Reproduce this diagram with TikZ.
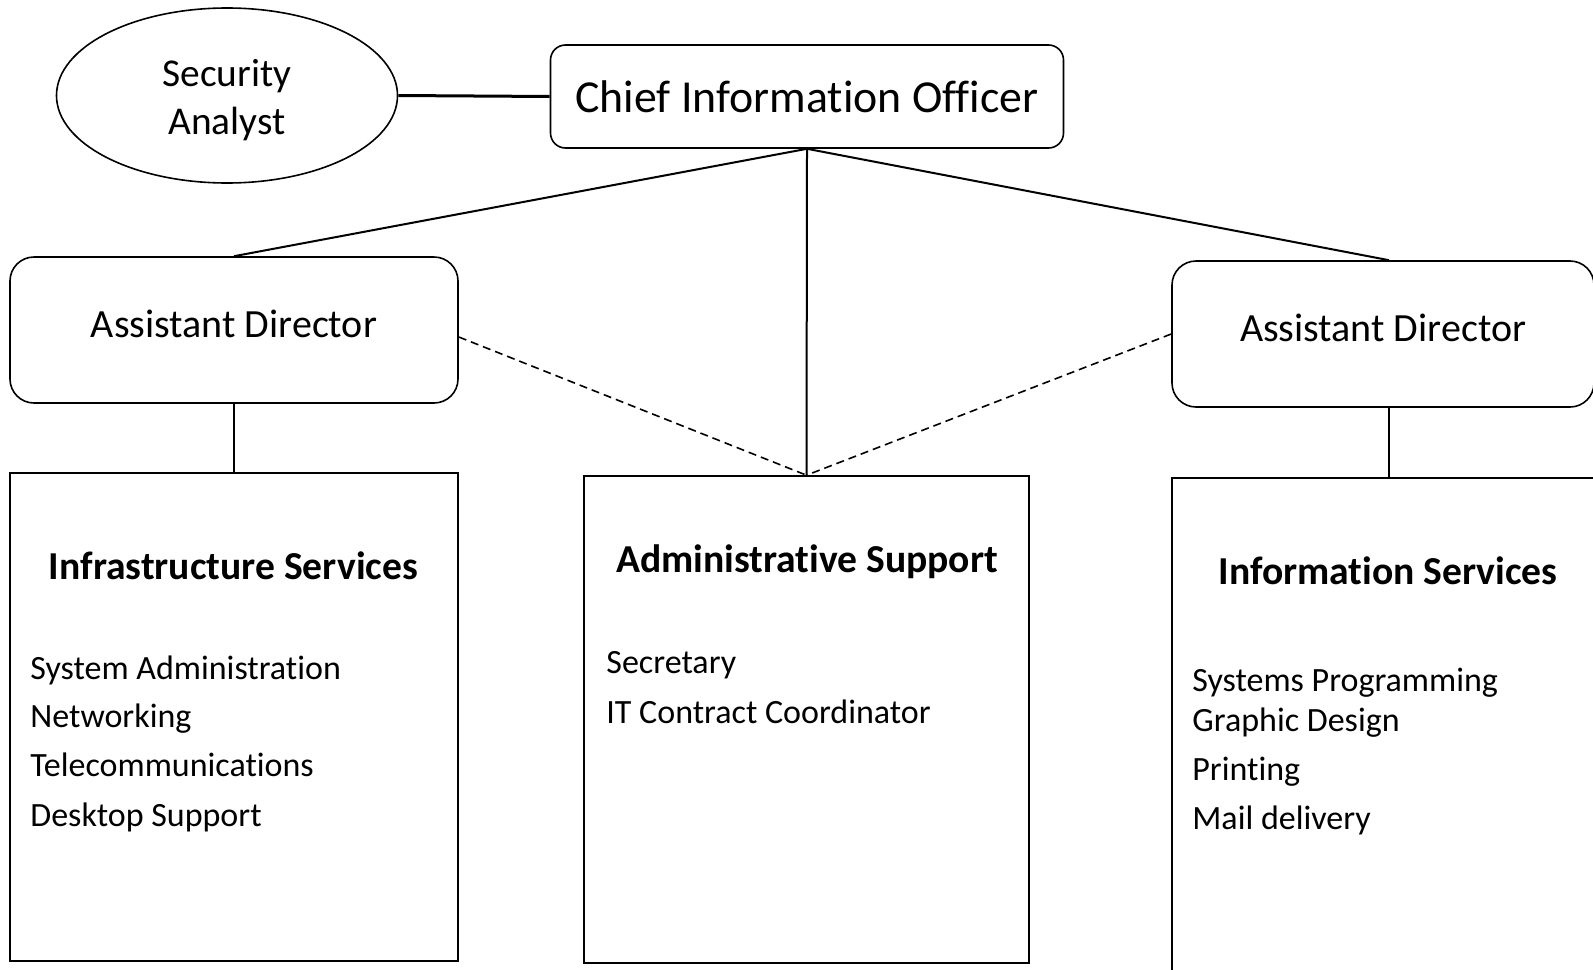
\documentclass[tikz,border=0pt]{standalone}
\usepackage{fontspec}
\setmainfont{Carlito}[Ligatures=NoCommon]
\usetikzlibrary{shapes.geometric}

\tikzset{
  box/.style={draw, rectangle, line width=0.8pt, inner sep=0pt},
  roundbox/.style={box, rounded corners=12pt, text height=0.75em, text depth=0pt, font=\fontsize{20}{24}\selectfont},
  heading/.style={inner sep=0pt, font=\bfseries\fontsize{19.8}{23}\selectfont},
  entry/.style={anchor=west, inner sep=0pt, text height=0.75em, text depth=0.25em, font=\fontsize{17}{20}\selectfont},
  link/.style={line width=1pt},
  dotted link/.style={line width=0.8pt, dash pattern=on 4pt off 2.5pt}
}

\begin{document}
\begin{tikzpicture}[x=0.5pt, y=-0.5pt]
        \useasboundingbox (0,0) rectangle (1593,969);
        \clip (0,0) rectangle (1593,969);

        % Nodes
        \node (sec) [draw, ellipse, line width=0.8pt, minimum width=170.5pt, minimum height=87.5pt, inner sep=0pt] at (227,95.5) {};
        \node (sec_txt) [align=center, inner sep=0pt, font=\fontsize{19.7}{24}\selectfont] at (227,100.5) {Security\\Analyst};
        \node (cio) [box, rounded corners=7.5pt, minimum width=256.5pt, minimum height=51.5pt, font=\fontsize{22.9}{27}\selectfont] at (807,96.5) {Chief Information Officer};
        \node (adl) [roundbox, minimum width=224pt, minimum height=73pt] at (234,330) {Assistant Director};
        \node (adr) [roundbox, minimum width=211pt, minimum height=73pt] at (1383,334) {Assistant Director};

        \node (infra) [box, minimum width=224pt, minimum height=244pt] at (234,717) {};
        \node (admin) [box, minimum width=222.5pt, minimum height=243.5pt] at (806.5,719.5) {};
        \node (info) [box, minimum width=230pt, minimum height=260pt] at (1402,738) {};

        % Box contents
        \node (infra_t) [heading] at (233.5,566) {Infrastructure Services};
        \node (infra_1) [entry] at (30,674) {System Administration};
        \node (infra_2) [entry] at (30,722) {Networking};
        \node (infra_3) [entry] at (30,771) {Telecommunications};
        \node (infra_4) [entry] at (30,821) {Desktop Support};

        \node (admin_t) [heading] at (807,562) {Administrative Support};
        \node (admin_1) [entry] at (606,668) {Secretary};
        \node (admin_2) [entry] at (606,718) {IT Contract Coordinator};

        \node (info_t) [heading] at (1388,571) {Information Services};
        \node (info_1) [entry] at (1192,686) {Systems Programming};
        \node (info_2) [entry] at (1192,726) {Graphic Design};
        \node (info_3) [entry] at (1192,775) {Printing};
        \node (info_4) [entry] at (1192,824) {Mail delivery};

        % Lines
        \draw [line width=1.5pt] (sec.east) -- (cio.west);
        \draw [link] (cio.south) -- (adl.north);
        \draw [link] (cio.south) -- ([xshift=3pt]adr.north);
        \draw [link] (cio.south) -- (admin.north);
        \draw [link] (adl.south) -- (infra.north);
        \draw [link] ([xshift=3pt]adr.south) -- ([xshift=3pt]adr.south |- info.north);
        \draw [dotted link] ([yshift=-3.5pt]adl.east) -- (admin.north);
        \draw [dotted link] (adr.west) -- (admin.north);
    \end{tikzpicture}
\end{document}
